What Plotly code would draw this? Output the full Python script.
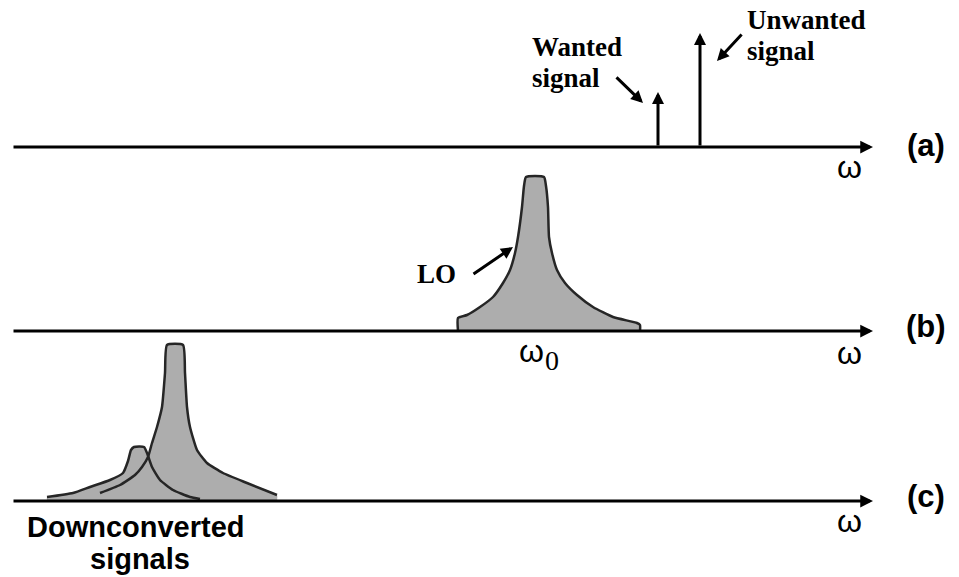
import plotly.graph_objects as go

W, H = 959, 577

# ---------------- data (frequency in arbitrary units, amplitude in arbitrary units) ----------------
omega_min, omega_max = 12, 873          # extent of the frequency axes

# (a) input spectrum: two spectral lines
signal_names = ["Wanted", "Unwanted"]
signal_freqs = [658, 700]
signal_amps = [55, 114]

# (b) local oscillator spectrum (outline, top is clipped)
lo_freq = 535
lo_x = [458, 458, 467, 480, 493, 503, 510, 515, 518, 522, 524, 526, 544, 546, 548, 549, 552, 557, 565, 577, 593, 613, 637, 640, 640]
lo_h = [0, 13, 16, 24, 34, 48, 61, 78, 94, 124, 145, 154, 154, 145, 124, 94, 78, 61, 48, 36, 24, 14, 8, 6, 0]

# (c) down-converted spectrum: strong (unwanted) peak and weak (wanted) peak
down_main_x = [95, 100, 120, 135, 142, 148, 152, 157, 162, 165, 167, 183, 185, 187, 190, 197, 207, 223, 247, 277, 277]
down_main_h = [0, 8, 16, 26, 34, 44, 58, 74, 94, 128, 156, 156, 128, 94, 74, 51, 38, 28, 18, 6, 0]
down_small_x = [47, 47, 73, 90, 110, 123, 128, 131, 134, 144, 147, 152, 160, 173, 190, 200, 200]
down_small_h = [0, 4, 8, 14, 21, 28, 40, 51, 54, 54, 48, 34, 21, 11, 4, 2, 0]

panel_labels = ["(a)", "(b)", "(c)"]

# ---------------- figure ----------------
# baselines (pixel rows) of the three panels and their top
panels = [(147, 0), (331, 165), (501, 338)]
FILL = "#adadad"
EDGE = "#262626"

fig = go.Figure()

def yname(i):
    return "y" if i == 0 else f"y{i+1}"

def xname(i):
    return "x" if i == 0 else f"x{i+1}"

SM = 0.5
# LO spectrum
fig.add_trace(go.Scatter(x=lo_x, y=lo_h, xaxis="x2", yaxis="y2", mode="lines",
                         fill="toself", fillcolor=FILL,
                         line=dict(color=EDGE, width=2.5, shape="spline", smoothing=SM),
                         hoverinfo="skip", showlegend=False))
# down-converted
fig.add_trace(go.Scatter(x=down_main_x, y=down_main_h, xaxis="x3", yaxis="y3", mode="lines",
                         fill="toself", fillcolor=FILL,
                         line=dict(color=EDGE, width=0, shape="spline", smoothing=SM),
                         hoverinfo="skip", showlegend=False))
fig.add_trace(go.Scatter(x=down_small_x, y=down_small_h, xaxis="x3", yaxis="y3", mode="lines",
                         fill="toself", fillcolor=FILL,
                         line=dict(color=EDGE, width=0, shape="spline", smoothing=SM),
                         hoverinfo="skip", showlegend=False))
fig.add_trace(go.Scatter(x=down_main_x[1:-1], y=down_main_h[1:-1], xaxis="x3", yaxis="y3", mode="lines",
                         line=dict(color=EDGE, width=2.5, shape="spline", smoothing=SM),
                         hoverinfo="skip", showlegend=False))
fig.add_trace(go.Scatter(x=down_small_x[1:-1], y=down_small_h[1:-1], xaxis="x3", yaxis="y3", mode="lines",
                         line=dict(color=EDGE, width=2.5, shape="spline", smoothing=SM),
                         hoverinfo="skip", showlegend=False))

layout = dict(width=W, height=H, margin=dict(l=0, r=0, t=0, b=0),
              paper_bgcolor="white", plot_bgcolor="rgba(0,0,0,0)", showlegend=False)
for i, (base, top) in enumerate(panels):
    suffix = "" if i == 0 else str(i + 1)
    layout["xaxis" + suffix] = dict(domain=[0, 1], range=[0, W], visible=False,
                                    anchor=yname(i), fixedrange=True)
    layout["yaxis" + suffix] = dict(domain=[1 - base / H, 1 - top / H], range=[0, base - top],
                                    visible=False, anchor=xname(i), fixedrange=True)
fig.update_layout(**layout)

ann = []
# frequency axes with arrow heads
for i in range(3):
    ann.append(dict(x=omega_max, y=0, ax=omega_min, ay=0, xref=xname(i), yref=yname(i),
                    axref=xname(i), ayref=yname(i), text="", showarrow=True,
                    arrowhead=2, arrowsize=0.85, arrowwidth=3, arrowcolor="black"))
# spectral lines in (a)
for f, a in zip(signal_freqs, signal_amps):
    ann.append(dict(x=f, y=a, ax=f, ay=0, xref="x", yref="y", axref="x", ayref="y",
                    text="", showarrow=True, arrowhead=2, arrowsize=0.8, arrowwidth=3,
                    arrowcolor="black"))

def px(x):
    return x / W

def py(y):
    return 1 - y / H

def text(t, x, y, size, family, bold=False, xanchor="center"):
    s = f"<b>{t}</b>" if bold else t
    ann.append(dict(x=px(x), y=py(y), xref="paper", yref="paper", text=s, showarrow=False,
                    xanchor=xanchor, yanchor="middle", borderpad=0,
                    font=dict(size=size, family=family, color="black")))

SERIF = "Liberation Serif"
SANS = "Liberation Sans"

# pointer labels
text("Unwanted", 746, 20, 27, SERIF, True, "left")
text("signal", 746, 51, 27, SERIF, True, "left")
text("Wanted", 531, 47, 27, SERIF, True, "left")
text("signal", 531, 78, 27, SERIF, True, "left")
text("LO", 416, 274, 27, SERIF, True, "left")

def pointer(tx, ty, ax, ay):
    ann.append(dict(x=px(tx), y=py(ty), xref="paper", yref="paper", text="",
                    showarrow=True, ax=ax, ay=ay, arrowhead=2, arrowsize=0.8,
                    arrowwidth=3, arrowcolor="black"))

pointer(717, 61, 26, -28)
pointer(643, 103, -28, -27)
pointer(513, 247, -41, 28)

# panel labels and omega
label_y = [146, 326, 497]
omega_y = [167, 353, 521]
for lab, ly, oy in zip(panel_labels, label_y, omega_y):
    text(lab, 926, ly, 31, SANS, True)
    text("ω", 849, oy, 32, SANS)

# omega_0 under LO
text("ω", lo_freq - 4, 351, 32, SANS)
text("0", lo_freq + 17, 360, 28, SERIF)

text("Downconverted", 136, 527, 29, SANS, True)
text("signals", 140, 559, 29, SANS, True)

fig.update_layout(annotations=ann)
fig.write_html("out.html")
